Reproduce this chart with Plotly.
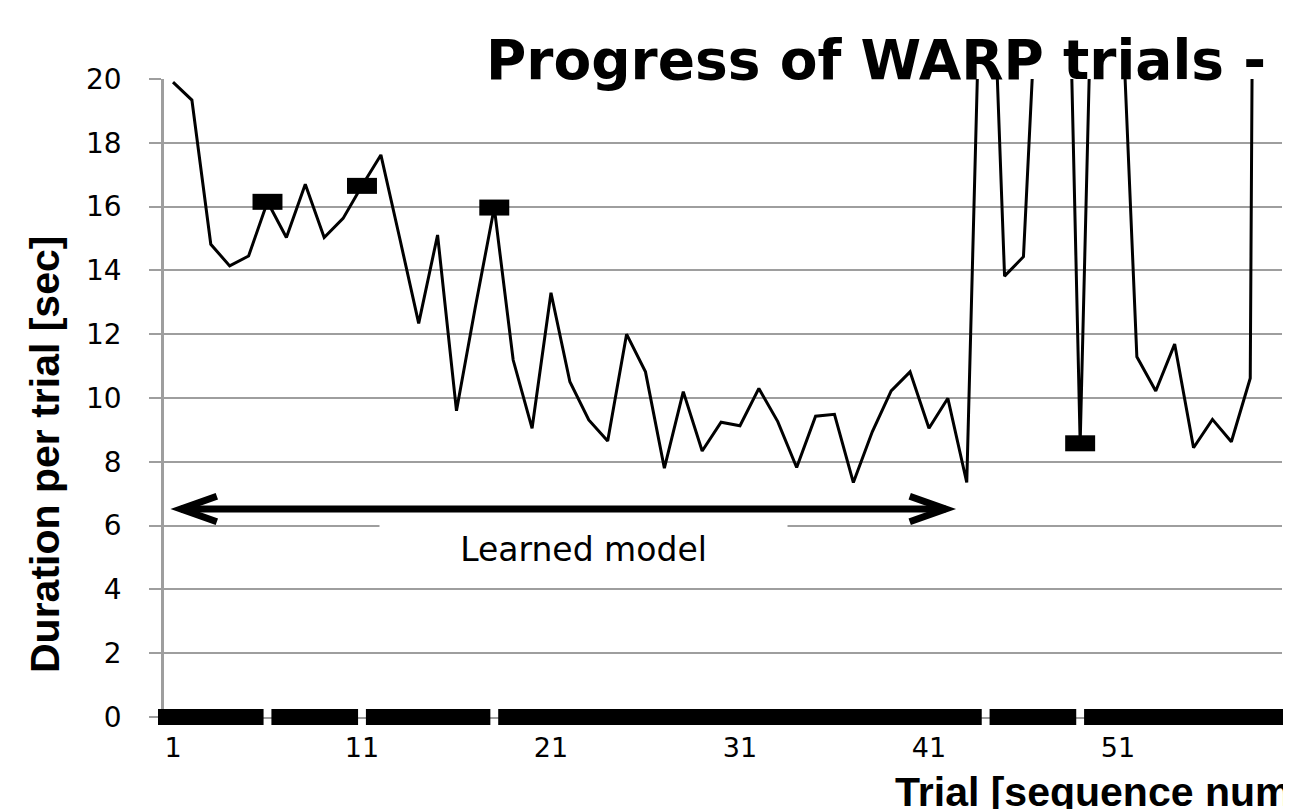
import plotly.graph_objects as go

# ---------------- data ----------------
trials = list(range(1, 60))
duration = [19.9, 19.34, 14.82, 14.14, 14.45, 16.15, 15.03, 16.7, 15.03, 15.63,
            16.65, 17.62, 15.0, 12.34, 15.11, 9.6, 12.86, 15.97, 11.19, 9.05,
            13.3, 10.51, 9.31, 8.65, 12.0, 10.82, 7.8, 10.2, 8.34, 9.24,
            9.13, 10.3, 9.26, 7.82, 9.43, 9.49, 7.35, 8.94, 10.22, 10.82,
            9.05, 9.99, 7.35, 30.0, 13.82, 14.43, 26.5, 34.5, 8.58, 32.6,
            25.3, 11.29, 10.22, 11.69, 8.44, 9.33, 8.63, 10.62, 110.0]
flagged_trials = [6, 11, 18, 44, 49]
flagged_duration = [duration[t - 1] for t in flagged_trials]
baseline_trials = [t for t in range(1, 61) if t not in flagged_trials]
baseline_values = [0] * len(baseline_trials)

x_ticks = [1, 11, 21, 31, 41, 51]
y_ticks = list(range(0, 21, 2))

arrow_from, arrow_to, arrow_level = 1.42, 41.88, 6.52

# ---------------- geometry (page has an 8px body margin) ----------------
PAGE_OFF = 8
PLOT_L, PLOT_R, PLOT_T, PLOT_B = 164, 1282, 79, 717
FIG_W, FIG_H = 1291 - PAGE_OFF, 809 - PAGE_OFF
PW, PH = PLOT_R - PLOT_L, PLOT_B - PLOT_T


def px(X):
    return (X - PLOT_L) / PW


def py(Y):
    return (PLOT_B - Y) / PH


# ---------------- figure ----------------
fig = go.Figure()

fig.add_trace(go.Scatter(
    x=trials, y=duration, mode="lines",
    line=dict(color="black", width=3), showlegend=False, hoverinfo="skip"))

# plotly's line-ew marker is 1.4 x size long -> 21.4 gives ~30 px
mk = dict(symbol="line-ew", size=21.4, color="black",
          line=dict(color="black", width=16))

fig.add_trace(go.Scatter(
    x=flagged_trials, y=flagged_duration, mode="markers", marker=mk,
    showlegend=False, hoverinfo="skip"))

fig.add_trace(go.Scatter(
    x=baseline_trials, y=baseline_values, mode="markers", marker=mk,
    cliponaxis=False, showlegend=False, hoverinfo="skip"))

grid = "#9e9e9e"
fig.update_layout(
    width=FIG_W, height=FIG_H,
    margin=dict(l=PLOT_L - PAGE_OFF, r=FIG_W - (PLOT_R - PAGE_OFF),
                t=PLOT_T - PAGE_OFF, b=FIG_H - (PLOT_B - PAGE_OFF), pad=0),
    paper_bgcolor="white", plot_bgcolor="white",
    xaxis=dict(range=[0.524, 59.68], tickmode="array", tickvals=x_ticks,
               ticktext=[str(v) for v in x_ticks], showgrid=False, zeroline=False,
               showline=True, linecolor=grid, linewidth=1.5, ticks="",
               layer="below traces", ticklabelstandoff=6,
               tickfont=dict(family="DejaVu Sans", size=27, color="black")),
    yaxis=dict(range=[0, 20], tickmode="array", tickvals=y_ticks,
               showgrid=True, gridcolor=grid, gridwidth=2, zeroline=False,
               showline=True, linecolor=grid, linewidth=2.5,
               ticks="outside", ticklen=12, tickcolor=grid, tickwidth=2,
               layer="below traces", ticklabelstandoff=22,
               tickfont=dict(family="DejaVu Sans", size=28, color="black")),
)

# double-headed arrow "Learned model"
dx_head, dy_head = 1.9, 0.40
fig.add_shape(type="line", xref="x", yref="y",
              x0=arrow_from, x1=arrow_to, y0=arrow_level, y1=arrow_level,
              line=dict(color="black", width=7))
fig.add_shape(type="path", xref="x", yref="y",
              path=f"M {arrow_from + dx_head},{arrow_level + dy_head} L {arrow_from},{arrow_level} "
                   f"L {arrow_from + dx_head},{arrow_level - dy_head}",
              line=dict(color="black", width=7))
fig.add_shape(type="path", xref="x", yref="y",
              path=f"M {arrow_to - dx_head},{arrow_level + dy_head} L {arrow_to},{arrow_level} "
                   f"L {arrow_to - dx_head},{arrow_level - dy_head}",
              line=dict(color="black", width=7))

# faint grey strip at the right edge
fig.add_shape(type="rect", xref="paper", yref="paper",
              x0=px(1283), x1=px(1291), y0=py(610), y1=py(195),
              fillcolor="#eeeeee", line=dict(width=0), layer="below")

fig.add_annotation(xref="paper", yref="paper", x=px(583), y=py(549),
                   text="Learned model", showarrow=False,
                   font=dict(family="DejaVu Sans", size=33, color="black"),
                   bgcolor="white", width=405, height=52, xanchor="center", yanchor="middle")

fig.add_annotation(xref="paper", yref="paper", x=px(484), y=py(60),
                   text="<b>Progress of WARP trials -</b>", showarrow=False,
                   font=dict(family="DejaVu Sans", size=55, color="black"),
                   xanchor="left", yanchor="middle")

fig.add_annotation(xref="paper", yref="paper", x=px(45), y=py(455),
                   text="<b>Duration per trial [sec]</b>", showarrow=False, textangle=-90,
                   font=dict(family="Liberation Sans", size=41, color="black"),
                   xanchor="center", yanchor="middle")

fig.add_annotation(xref="paper", yref="paper", x=px(893), y=py(792),
                   text="<b>Trial [sequence number]</b>", showarrow=False,
                   font=dict(family="Liberation Sans", size=41, color="black"),
                   xanchor="left", yanchor="middle")

fig.write_html("out.html")
